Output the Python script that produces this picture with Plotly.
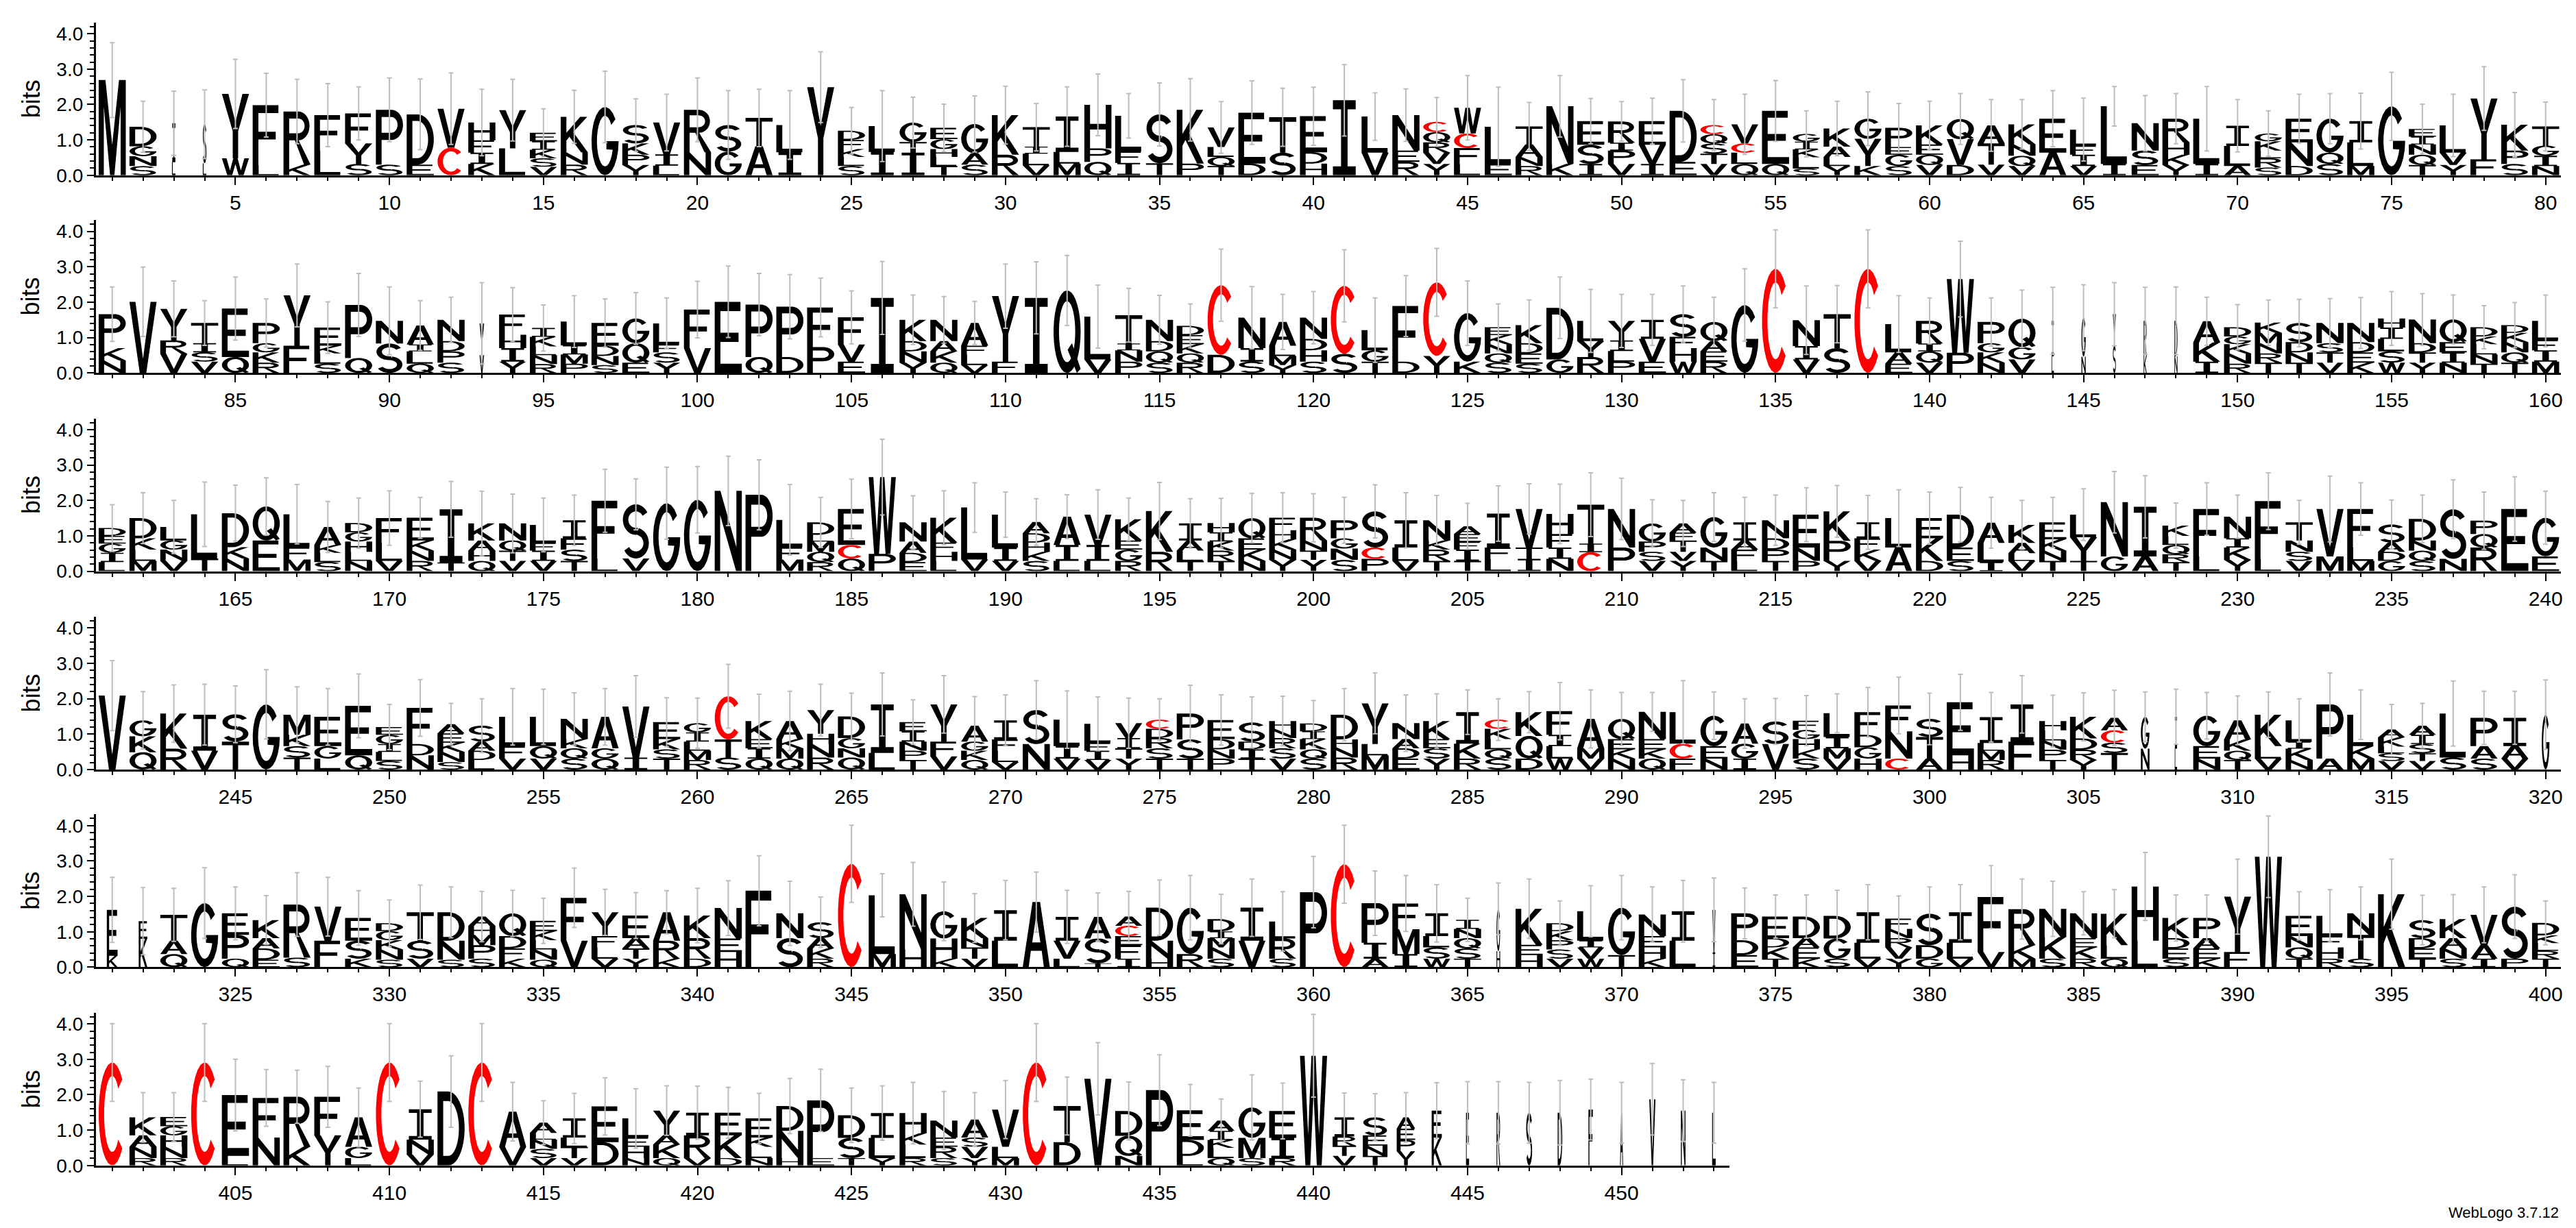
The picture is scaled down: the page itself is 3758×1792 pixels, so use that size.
import numpy as np
import plotly.graph_objects as go

# ---------------- data (letters listed top -> bottom of each stack, heights in bits) -------------
letters_row1 = ["M","DGNS","IL","SL","YW","FL","RK","FL","FYS","PS",
 "DE","VC","HFIK","YL","EIKSV","KNR","G","SKPY","VIL","RN",
 "SG","TA","LI","Y","DFKLS","LI","GTI","EGHLT","GAS","KR",
 "TILV","ILM","HPQ","LFI","ST","KP","VLQT","ED","TS","EDH",
 "I","LV","NER","CQRVY","WCFL","LE","TANR","NK","ESI","RIPV",
 "EVI","DE","CQSTV","VCLQ","EQ","GIKLS","KALY","GYK","PEGS","KEQV",
 "QVD","ATV","KNQV","EA","LFIV","LI","NSE","RHKY","LI","ILA",
 "GKLRS","END","GQS","ILM","G","EINQT","LVY","YF","KPS","TGIN"]
heights_row1 = [[2.69],[0.55,0.28,0.28,0.26],[1.1,0.37],[1.1,0.34],[1.82,0.48],[1.7,0.28],[1.5,0.3],[1.0,0.7],[0.85,0.58,0.32],[1.55,0.3],
 [1.42,0.3],[1.1,0.78],[0.5,0.35,0.32,0.32],[1.08,0.76],[0.24,0.24,0.24,0.24,0.24],[1.0,0.35,0.3],[1.93],[0.52,0.32,0.29,0.29],[0.9,0.32,0.27],[1.2,0.65],
 [0.75,0.67],[0.8,0.82],[0.77,0.65],[2.49],[0.26,0.26,0.22,0.26,0.26],[0.73,0.66],[0.55,0.3,0.64],[0.32,0.28,0.22,0.26,0.26],[0.83,0.32,0.3],[1.12,0.58],
 [0.55,0.2,0.33,0.28],[1.0,0.33,0.33],[1.23,0.38,0.38],[1.0,0.33,0.35],[1.38,0.34],[1.52,0.33],[0.55,0.28,0.26,0.26],[1.44,0.33],[1.0,0.64],[1.02,0.32,0.33],
 [2.12],[1.02,0.64],[1.0,0.32,0.38],[0.29,0.29,0.29,0.32,0.32],[0.73,0.41,0.45,0.32],[1.05,0.32],[0.51,0.35,0.26,0.26],[1.63,0.32],[0.67,0.54,0.32],[0.6,0.22,0.38,0.32],
 [0.67,0.54,0.32],[1.44,0.38],[0.26,0.26,0.29,0.29,0.32],[0.54,0.26,0.32,0.32],[1.5,0.32],[0.22,0.22,0.22,0.32,0.19],[0.51,0.29,0.26,0.26],[0.57,0.77,0.26],[0.54,0.22,0.32,0.26],[0.54,0.29,0.29,0.29],
 [0.57,0.73,0.29],[0.51,0.6,0.3],[0.57,0.32,0.29,0.26],[0.96,0.64],[0.45,0.26,0.32,0.26],[1.63,0.32],[0.77,0.41,0.29],[0.67,0.35,0.29,0.29],[1.28,0.32],[0.57,0.57,0.26],
 [0.22,0.26,0.22,0.26,0.22],[0.67,0.67,0.26],[0.96,0.32,0.32],[0.6,0.67,0.26],[1.95],[0.22,0.22,0.29,0.29,0.29],[0.77,0.35,0.29],[1.72,0.45],[0.73,0.38,0.32],[0.54,0.29,0.29,0.26]]
err_top_row1 = [3.75,2.09,2.38,2.41,3.28,2.88,2.71,2.59,2.50,2.75,
 2.72,2.89,2.43,2.71,1.88,2.40,2.94,2.16,2.29,2.75,
 2.39,2.43,2.39,3.49,1.92,2.39,2.21,2.01,2.24,2.52,
 2.03,2.50,2.86,2.31,2.61,2.73,2.08,2.67,2.46,2.49,
 3.13,2.33,2.44,2.20,2.82,2.49,2.06,2.82,2.17,2.08,
 2.18,2.70,2.14,2.29,2.68,1.82,2.09,2.36,2.03,2.09,
 2.31,2.14,2.14,2.39,2.18,2.51,2.25,2.31,2.51,2.14,
 1.82,2.29,2.31,2.32,2.91,2.01,2.29,3.07,2.34,2.07]

letters_row2 = ["PKN","V","YRV","TISV","EQ","PGKR","YF","EKLS","PQ","NS",
 "AILQ","NDPS","YV","FHIY","IKLNR","LIMP","EDNS","GQE","LFSY","FV",
 "E","PQ","PD","FP","FVE","I","KDNY","NAKQ","AFLV","YF",
 "I","Q","LV","TINP","NDQS","DEKQR","CD","NIS","ALMY","NDHS",
 "CS","LGT","FD","CY","GK","EKNQS","KDES","DG","LYR","YILP",
 "IVE","SFHW","QAER","G","C","NIV","TS","C","LAE","RIQV",
 "WP","PGKN","QGV","IL","GN","YS","RK","DN","AKI","DGKNR",
 "KMNRT","SDNT","NSTV","NDEK","HILSW","NDTY","QEIN","DKLNT","DKNQT","LFIM"]
heights_row2 = [[0.96,0.35,0.35],[2.01],[0.89,0.38,0.54],[0.57,0.26,0.26,0.32],[1.37,0.45],[0.57,0.26,0.29,0.29],[1.42,0.77],[0.51,0.22,0.29,0.26],[1.5,0.42],[0.64,0.83],
 [0.54,0.19,0.35,0.26],[0.6,0.29,0.32,0.29],[0.9,0.5],[0.57,0.38,0.38,0.32],[0.25,0.27,0.25,0.25,0.25],[0.67,0.26,0.26,0.26],[0.64,0.29,0.26,0.22],[0.7,0.55,0.29],[0.6,0.22,0.29,0.29],[1.09,0.7],
 [2.01],[1.48,0.45],[1.42,0.45],[1.12,0.73],[0.77,0.48,0.32],[2.12],[0.6,0.29,0.32,0.29],[0.6,0.29,0.32,0.29],[0.64,0.26,0.29,0.22],[1.85,0.32],
 [2.12],[2.33],[1.21,0.38],[0.8,0.19,0.32,0.32],[0.6,0.29,0.32,0.29],[0.26,0.26,0.26,0.26,0.29],[1.97,0.51],[0.86,0.38,0.32],[0.67,0.29,0.26,0.22],[0.6,0.32,0.32,0.32],
 [1.92,0.54],[0.57,0.32,0.32],[1.57,0.32],[2.08,0.48],[1.37,0.32],[0.22,0.26,0.26,0.26,0.29],[0.51,0.29,0.29,0.26],[1.46,0.38],[0.57,0.45,0.45],[0.55,0.3,0.3,0.32],
 [0.54,0.64,0.32],[0.64,0.32,0.38,0.32],[0.54,0.29,0.29,0.32],[1.92],[2.94],[0.73,0.38,0.38],[0.96,0.7],[2.94],[0.8,0.32,0.26],[0.64,0.22,0.32,0.29],
 [2.08,0.57],[0.6,0.26,0.29,0.29],[0.8,0.35,0.38],[1.0,0.47],[1.1,0.46],[0.9,0.76],[1.0,0.47],[1.0,0.47],[0.6,0.54,0.32],[0.26,0.22,0.26,0.29,0.26],
 [0.29,0.29,0.29,0.26,0.29],[0.54,0.29,0.29,0.29],[0.57,0.26,0.29,0.29],[0.54,0.29,0.29,0.29],[0.26,0.32,0.35,0.32,0.29],[0.67,0.26,0.29,0.29],[0.64,0.29,0.29,0.29],[0.26,0.22,0.29,0.26,0.26],[0.22,0.26,0.29,0.29,0.29],[0.54,0.29,0.32,0.32]]
err_top_row2 = [2.43,2.99,2.60,2.04,2.71,2.09,3.08,2.01,2.81,2.43,
 2.04,2.14,2.55,2.41,1.92,2.18,2.09,2.27,2.12,2.59,
 3.02,2.81,2.78,2.68,2.32,3.15,2.20,2.16,2.02,3.08,
 3.14,3.32,2.48,2.39,2.19,1.95,3.50,2.44,2.22,2.30,
 3.48,2.12,2.75,3.52,2.60,1.95,2.06,2.71,2.36,2.22,
 2.22,2.46,2.14,2.94,4.04,2.46,2.47,4.04,2.18,2.12,
 3.72,2.12,2.34,2.42,2.49,2.55,2.42,2.43,2.14,1.93,
 2.06,2.08,2.10,2.13,2.30,2.24,2.20,1.90,1.99,2.20]

letters_row3 = ["DEGIL","DKLM","LGNV","LT","DKN","QE","LFM","AKLS","DGHLN","FLV",
 "EKNR","IT","KAHQ","NQTV","LFIV","IFST","FL","SV","G","G",
 "N","P","LFM","DLMQR","ECQ","WP","NADE","KFHL","LV","LIV",
 "ADHKS","AIL","VIL","KEGR","KR","IALT","HIKRT","QEKN","FHKNY","RNTY",
 "PGNS","SCP","ILV","NKRT","AEFIT","IFL","VTI","HFIN","TIC","NP",
 "GPSV","AFTVY","GNT","IAFL","NDPT","ENP","KPY","IFKV","LA","EKD",
 "DES","ALI","KALV","EKNT","LYT","NG","IA","KLQRT","FL","NIKY",
 "FL","TNSV","VM","FLM","SADG","DNQS","SN","PQR","E","GE"]
heights_row3 = [[0.22,0.22,0.26,0.26,0.26],[0.57,0.32,0.32,0.29],[0.38,0.26,0.32,0.29],[1.25,0.36],[0.96,0.32,0.36],[0.96,0.87],[0.93,0.35,0.33],[0.51,0.22,0.26,0.26],[0.26,0.26,0.29,0.26,0.29],[0.7,0.51,0.29],
 [0.64,0.29,0.29,0.29],[1.5,0.25],[0.48,0.29,0.29,0.29],[0.48,0.29,0.29,0.29],[0.51,0.22,0.29,0.29],[0.51,0.32,0.32,0.29],[1.63,0.36],[1.53,0.36],[1.92],[2.02],
 [2.27],[2.16],[0.77,0.35,0.33],[0.35,0.19,0.29,0.29,0.26],[1.02,0.38,0.36],[2.17,0.49],[0.54,0.32,0.26,0.26],[0.7,0.26,0.26,0.29],[1.47,0.33],[0.93,0.38,0.29],
 [0.32,0.26,0.26,0.26,0.29],[0.8,0.45,0.29],[0.86,0.45,0.29],[0.6,0.26,0.32,0.29],[1.15,0.55],[0.48,0.29,0.29,0.29],[0.26,0.26,0.26,0.29,0.29],[0.57,0.32,0.32,0.29],[0.35,0.26,0.29,0.29,0.32],[0.64,0.29,0.26,0.32],
 [0.51,0.29,0.32,0.32],[1.02,0.32,0.35],[0.77,0.38,0.29],[0.57,0.26,0.32,0.29],[0.22,0.22,0.22,0.32,0.29],[0.96,0.32,0.35],[1.09,0.32,0.35],[0.57,0.38,0.32,0.35],[1.1,0.24,0.54],[1.09,0.67],
 [0.51,0.29,0.26,0.29],[0.26,0.22,0.32,0.26,0.29],[0.86,0.38,0.29],[0.51,0.26,0.32,0.29],[0.51,0.32,0.32,0.29],[0.93,0.38,0.29],[0.83,0.57,0.29],[0.45,0.32,0.32,0.29],[0.83,0.67],[0.57,0.64,0.29],
 [0.93,0.38,0.29],[0.57,0.54,0.26],[0.51,0.29,0.22,0.29],[0.48,0.32,0.29,0.29],[0.64,0.67,0.29],[1.53,0.42],[1.4,0.42],[0.29,0.26,0.26,0.22,0.26],[1.34,0.42],[0.61,0.26,0.35,0.32],
 [1.63,0.35],[0.51,0.32,0.26,0.29],[1.34,0.42],[1.09,0.38,0.29],[0.51,0.26,0.26,0.29],[0.61,0.29,0.29,0.29],[1.4,0.35],[0.38,0.38,0.67],[1.76],[1.09,0.42]]
err_top_row3 = [1.88,2.22,2.00,2.52,2.43,2.64,2.45,1.97,2.07,2.27,
 2.09,2.54,2.26,2.18,2.07,2.15,2.88,2.61,2.94,2.96,
 3.25,3.15,2.45,2.09,2.60,3.73,2.13,2.27,2.50,2.24,
 2.05,2.16,2.30,2.07,2.51,2.05,2.06,2.20,2.22,2.19,
 2.09,2.44,2.22,2.14,1.92,2.41,2.47,2.46,2.78,2.63,
 2.02,2.00,2.22,2.09,2.15,2.36,2.42,2.14,2.30,2.24,
 2.37,2.09,2.00,2.09,2.33,2.82,2.70,1.93,2.50,2.15,
 2.78,2.00,2.69,2.50,2.01,2.15,2.58,2.24,2.67,2.26]

letters_row4 = ["V","GKQ","KR","IV","ST","G","MKST","EGL","EQ","EGILS",
 "FDN","AEKNS","SADL","LFV","LQV","NKQS","AGQ","VI","EKST","GILMR",
 "CTS","KEIQ","AKMQ","YHNR","DGNQ","IL","EINPT","YFV","AGKQ","IFLV",
 "SN","LIV","LFIV","VITY","CDRST","PST","EDNP","SDIT","HNRSV","DIKQS",
 "DHNR","YLM","NADE","KESY","IKR","CKLQS","KQD","FILW","AMV","QEKN",
 "NEKQ","LCF","GEN","AGI","SV","FGHKS","LIMV","FDGH","FNC","STA",
 "EH","ILMR","IF","HLNPT","KDRY","ACST","GN","IL","GEN","AKQT",
 "KLV","LIKN","PA","LKM","AKLSV","AISTV","LS","PAS","IAV","G"]
heights_row4 = [[2.09],[0.45,0.45,0.49],[0.99,0.59],[1.02,0.53],[0.77,0.79],[1.84],[0.57,0.32,0.32,0.34],[0.83,0.35,0.31],[1.4,0.4],[0.22,0.26,0.22,0.26,0.24],
 [1.02,0.32,0.4],[0.26,0.26,0.26,0.29,0.21],[0.45,0.26,0.26,0.27],[0.83,0.35,0.31],[0.83,0.35,0.31],[0.57,0.26,0.29,0.31],[0.89,0.29,0.31],[1.44,0.34],[0.48,0.29,0.26,0.31],[0.26,0.26,0.26,0.26,0.27],
 [1.22,0.51,0.34],[0.51,0.26,0.29,0.31],[0.51,0.26,0.29,0.31],[0.67,0.29,0.38,0.34],[0.61,0.29,0.26,0.34],[1.37,0.47],[0.26,0.29,0.26,0.26,0.27],[1.05,0.42,0.37],[0.45,0.26,0.26,0.27],[0.54,0.32,0.32,0.21],
 [0.96,0.72],[0.75,0.35,0.31],[0.54,0.22,0.26,0.27],[0.42,0.29,0.29,0.31],[0.26,0.26,0.29,0.29,0.31],[0.73,0.54,0.31],[0.54,0.29,0.26,0.31],[0.54,0.22,0.26,0.31],[0.22,0.26,0.29,0.29,0.31],[0.22,0.22,0.29,0.26,0.31],
 [0.7,0.22,0.29,0.34],[1.15,0.32,0.4],[0.45,0.26,0.29,0.31],[0.51,0.26,0.29,0.31],[0.89,0.42,0.31],[0.26,0.29,0.29,0.26,0.31],[0.67,0.64,0.31],[0.67,0.32,0.35,0.31],[0.83,0.29,0.31],[0.57,0.29,0.26,0.31],
 [0.77,0.29,0.26,0.31],[0.89,0.42,0.31],[0.86,0.35,0.31],[0.57,0.42,0.31],[0.64,0.72],[0.26,0.26,0.29,0.26,0.31],[0.67,0.32,0.29,0.31],[0.64,0.35,0.32,0.31],[0.73,0.77,0.31],[0.51,0.61,0.31],
 [1.5,0.4],[0.73,0.22,0.26,0.27],[1.05,0.79],[0.26,0.29,0.26,0.29,0.27],[0.61,0.32,0.29,0.27],[0.35,0.35,0.29,0.47],[0.9,0.59],[0.9,0.59],[0.86,0.35,0.31],[0.54,0.32,0.26,0.27],
 [0.89,0.35,0.31],[0.61,0.19,0.32,0.27],[1.53,0.31],[0.89,0.35,0.31],[0.22,0.26,0.19,0.22,0.24],[0.26,0.26,0.26,0.22,0.24],[1.24,0.34],[0.8,0.35,0.31],[0.8,0.35,0.31],[1.55]]
err_top_row4 = [3.08,2.20,2.39,2.41,2.36,2.82,2.34,2.29,2.70,1.84,
 2.54,1.87,2.00,2.29,2.27,2.17,2.29,2.65,2.03,2.02,
 2.97,2.13,2.21,2.41,2.16,2.73,1.97,2.65,2.06,2.11,
 2.51,2.22,2.05,2.02,2.00,2.38,2.11,2.05,2.07,1.95,
 2.29,2.73,2.11,2.14,2.25,2.00,2.20,2.46,2.25,2.18,
 2.18,2.51,2.19,2.00,2.01,2.09,2.14,2.32,2.61,2.16,
 2.69,2.18,2.65,2.10,2.17,2.24,2.19,2.27,2.18,2.08,
 2.19,2.00,2.73,2.25,1.84,1.87,2.50,2.21,2.21,2.53]

letters_row5 = ["EK","EK","TAQ","G","EPQ","KADE","RS","VF","ESK","DGKNS",
 "TSV","DNS","AHMPS","QDFK","EKLNQ","FV","YFLV","EATY","ARK","KRD",
 "NEH","F","NS","SAKR","C","LM","NH","GHK","KNTV","IL",
 "A","IVL","AST","ACEFI","DNH","GR","DIMNS","IV","LRS","P",
 "C","PIA","FMI","ILSW","INQST","GH","KEH","DKPSV","LIVW","GT",
 "NEHK","IL","VI","PDE","EDKT","DAEK","DGS","ILV","FNRVY","SDG",
 "ILV","FV","RKM","NKS","NEKR","KLQ","HL","KDES","PAEK","YF",
 "W","ENQT","LFHR","NTS","K","SDET","KANS","VAI","SP","DKLRT"]
heights_row5 = [[1.3,0.32],[0.5,0.8],[0.73,0.38,0.37],[1.81],[0.61,0.67,0.24],[0.51,0.29,0.32,0.21],[1.5,0.27],[0.96,0.75],[0.64,0.51,0.24],[0.22,0.26,0.26,0.29,0.21],
 [0.8,0.51,0.24],[0.8,0.54,0.21],[0.26,0.26,0.29,0.38,0.24],[0.64,0.35,0.29,0.24],[0.29,0.26,0.26,0.29,0.21],[1.21,0.75],[0.67,0.32,0.32,0.24],[0.64,0.29,0.29,0.24],[0.8,0.51,0.24],[0.64,0.58,0.24],
 [0.86,0.38,0.43],[2.16],[0.7,0.82],[0.45,0.29,0.29,0.24],[2.92],[1.66,0.37],[1.56,0.5],[0.77,0.57,0.24],[0.57,0.26,0.32,0.24],[0.86,0.75],
 [1.84],[0.67,0.51,0.24],[0.61,0.7,0.11],[0.26,0.29,0.26,0.38,0.24],[0.93,0.51,0.24],[1.31,0.37],[0.35,0.19,0.26,0.32,0.24],[0.93,0.75],[0.48,0.57,0.24],[2.12],
 [2.91],[1.12,0.45,0.24],[0.73,0.7,0.37],[0.64,0.32,0.32,0.24],[0.26,0.26,0.29,0.29,0.24],[1.2,0.45],[1.02,0.29,0.34],[0.22,0.26,0.26,0.26,0.24],[0.83,0.19,0.32,0.24],[1.34,0.34],
 [0.61,0.32,0.32,0.24],[0.83,0.75],[1.2,0.42],[0.76,0.42,0.34],[0.61,0.26,0.32,0.24],[0.61,0.26,0.32,0.24],[0.64,0.57,0.24],[0.86,0.45,0.24],[0.29,0.26,0.26,0.32,0.24],[0.89,0.38,0.24],
 [0.86,0.45,0.24],[1.55,0.43],[1.02,0.38,0.24],[0.8,0.61,0.24],[0.7,0.26,0.32,0.24],[0.89,0.38,0.24],[1.53,0.75],[0.57,0.29,0.29,0.24],[0.57,0.29,0.29,0.24],[1.56,0.43],
 [3.12],[0.57,0.32,0.32,0.24],[0.57,0.32,0.32,0.24],[0.61,0.67,0.24],[2.06],[0.51,0.29,0.29,0.24],[0.54,0.29,0.29,0.24],[0.86,0.38,0.24],[1.47,0.24],[0.35,0.22,0.22,0.22,0.24]]
err_top_row5 = [2.54,2.25,2.23,2.81,2.27,2.02,2.67,2.54,2.16,1.90,
 2.32,2.27,2.14,2.17,1.95,2.80,2.20,2.11,2.16,2.23,
 2.44,3.15,2.43,1.98,4.01,2.64,2.96,2.41,2.08,2.45,
 2.69,2.17,2.10,2.14,2.46,2.59,2.06,2.49,2.13,3.13,
 4.01,2.72,2.59,2.33,1.95,2.38,2.49,1.87,2.30,2.59,
 2.27,2.45,2.52,2.24,2.04,2.04,2.17,2.33,2.01,2.27,
 2.33,2.87,2.49,2.43,2.13,2.19,3.24,2.04,2.04,3.05,
 4.27,2.13,2.19,2.27,3.05,2.03,2.05,2.27,2.61,1.87]

letters_row6 = ["C","KANR","EGHNR","C","EL","FN","RK","FY","AGL","C",
 "INV","D","C","AV","ALNSV","ILTV","ED","LEHN","YAKQ","IRV",
 "EKD","EKLN","DNH","PE","DST","ILY","HKLR","NERS","ASVY","VLM",
 "C","TD","V","DQN","P","EDL","AIKLQ","GMS","EIR","W",
 "IRTV","SENT","AEPY","EK","E","R","S","D","F","A",
 "V","N","L"]
heights_row6 = [[2.91],[0.51,0.32,0.32,0.21],[0.26,0.26,0.32,0.32,0.21],[2.91],[1.72,0.27],[1.12,0.79],[1.41,0.53],[1.09,0.85],[0.83,0.32,0.21],[2.91],
 [0.86,0.42,0.31],[2.09],[2.91],[0.99,0.53],[0.29,0.19,0.26,0.26,0.21],[0.54,0.26,0.32,0.21],[1.01,0.66],[0.54,0.26,0.32,0.21],[0.7,0.26,0.38,0.21],[0.64,0.64,0.21],
 [0.64,0.64,0.21],[0.54,0.26,0.32,0.21],[0.7,0.77,0.21],[1.63,0.21],[0.64,0.57,0.21],[0.7,0.57,0.21],[0.57,0.32,0.38,0.21],[0.48,0.26,0.32,0.21],[0.51,0.26,0.32,0.21],[1.05,0.32,0.21],
 [2.91],[1.02,0.66],[2.45],[0.7,0.57,0.27],[2.13],[0.84,0.45,0.27],[0.29,0.26,0.22,0.29,0.21],[0.86,0.57,0.21],[0.76,0.57,0.21],[3.1],
 [0.54,0.26,0.29,0.27],[0.51,0.29,0.29,0.27],[0.32,0.32,0.32,0.4],[0.76,0.79],[1.49],[1.49],[1.49],[1.49],[1.58],[1.49],
 [1.87],[1.55],[1.49]]
err_top_row6 = [4.01,2.06,2.06,4.01,3.00,2.71,2.69,2.80,2.19,4.01,
 2.38,3.10,4.01,2.35,1.83,2.04,2.48,2.17,2.25,2.24,
 2.21,2.04,2.46,2.72,2.19,2.25,2.35,2.09,2.06,2.40,
 4.01,2.50,3.47,2.36,3.13,2.29,1.88,2.56,2.33,4.27,
 2.05,2.03,2.06,2.34,2.37,2.37,2.35,2.40,2.44,2.35,
 2.88,2.42,2.35]

# columns drawn narrower (fraction of column width), all others use the default
narrow_positions = [3,4,93,144,145,146,147,148,307,308,320,321,322,366,373,
                    441,442,443,444,445,446,447,448,449,450,451,452,453]
narrow_widths = [0.12,0.12,0.15,0.08,0.14,0.10,0.10,0.10,0.28,0.08,0.25,0.35,0.28,0.12,0.10,
                 0.76,0.80,0.60,0.33,0.10,0.12,0.20,0.15,0.15,0.10,0.20,0.15,0.12]
DEFAULT_WIDTH = 0.88

rows = [(letters_row1, heights_row1, err_top_row1),
        (letters_row2, heights_row2, err_top_row2),
        (letters_row3, heights_row3, err_top_row3),
        (letters_row4, heights_row4, err_top_row4),
        (letters_row5, heights_row5, err_top_row5),
        (letters_row6, heights_row6, err_top_row6)]
PER_ROW = 80

# ---------------- glyph outlines (unit box) ----------------
def arc(cx, cy, rx, ry, a0, a1, n=22):
    t = np.radians(np.linspace(a0, a1, n))
    return [(cx + rx * np.cos(a), cy + ry * np.sin(a)) for a in t]

def ring(cx, cy, rxo, ryo, rxi, ryi, a0, a1, n=22):
    return arc(cx, cy, rxo, ryo, a0, a1, n) + arc(cx, cy, rxi, ryi, a1, a0, n)

GL = {
 'A': [([(0,0),(0.36,1),(0.64,1),(1,0),(0.78,0),(0.70,0.25),(0.30,0.25),(0.22,0)],0),
       ([(0.35,0.38),(0.65,0.38),(0.5,0.8)],1)],
 'C': [(ring(0.5,0.5,0.5,0.5,0.3,0.37,42,318),0)],
 'D': [([(0,0),(0,1),(0.4,1)] + arc(0.4,0.5,0.6,0.5,90,-90),0),
       ([(0.21,0.13),(0.21,0.87),(0.4,0.87)] + arc(0.4,0.5,0.39,0.37,90,-90),1)],
 'E': [([(0,0),(0,1),(0.95,1),(0.95,0.87),(0.21,0.87),(0.21,0.565),(0.88,0.565),(0.88,0.435),
        (0.21,0.435),(0.21,0.13),(1,0.13),(1,0)],0)],
 'F': [([(0,0),(0,1),(0.95,1),(0.95,0.87),(0.21,0.87),(0.21,0.56),(0.85,0.56),(0.85,0.43),
        (0.21,0.43),(0.21,0)],0)],
 'G': [(arc(0.5,0.5,0.5,0.5,40,360) + [(0.55,0.5),(0.55,0.38)] + arc(0.5,0.5,0.3,0.37,340,40),0)],
 'H': [([(0,0),(0,1),(0.21,1),(0.21,0.565),(0.79,0.565),(0.79,1),(1,1),(1,0),(0.79,0),
        (0.79,0.435),(0.21,0.435),(0.21,0)],0)],
 'I': [([(0.08,0),(0.92,0),(0.92,0.12),(0.62,0.12),(0.62,0.88),(0.92,0.88),(0.92,1),(0.08,1),
        (0.08,0.88),(0.38,0.88),(0.38,0.12),(0.08,0.12)],0)],
 'K': [([(0,0),(0,1),(0.21,1),(0.21,0.55),(0.72,1),(0.98,1),(0.46,0.57),(1,0),(0.75,0),
        (0.32,0.44),(0.21,0.33),(0.21,0)],0)],
 'L': [([(0,0),(0,1),(0.22,1),(0.22,0.13),(0.96,0.13),(0.96,0)],0)],
 'M': [([(0,0),(0,1),(0.25,1),(0.5,0.32),(0.75,1),(1,1),(1,0),(0.81,0),(0.81,0.72),(0.58,0),
        (0.42,0),(0.19,0.72),(0.19,0)],0)],
 'N': [([(0,0),(0,1),(0.21,1),(0.8,0.3),(0.8,1),(1,1),(1,0),(0.79,0),(0.2,0.7),(0.2,0)],0)],
 'P': [([(0,0),(0,1),(0.58,1)] + arc(0.58,0.725,0.42,0.275,90,-90) + [(0.21,0.45),(0.21,0)],0),
       ([(0.21,0.58),(0.21,0.87),(0.56,0.87)] + arc(0.56,0.725,0.24,0.145,90,-90),1)],
 'Q': [(arc(0.5,0.5,0.5,0.5,0,360,36),0),
       (arc(0.5,0.5,0.3,0.37,0,360,36),1),
       ([(0.52,0.28),(0.68,0.36),(1.0,0.05),(0.86,0.0)],0)],
 'R': [([(0,0),(0,1),(0.56,1)] + arc(0.56,0.73,0.4,0.27,90,-90) +
        [(1.0,0.0),(0.76,0.0),(0.42,0.46),(0.21,0.46),(0.21,0)],0),
       ([(0.21,0.59),(0.21,0.87),(0.54,0.87)] + arc(0.54,0.73,0.24,0.14,90,-90),1)],
 'S': [(ring(0.5,0.7175,0.48,0.2825,0.28,0.1525,28,282),0),
       (ring(0.5,0.2825,0.48,0.2825,0.28,0.1525,78,-152),0)],
 'T': [([(0,1),(1,1),(1,0.87),(0.6,0.87),(0.6,0),(0.4,0),(0.4,0.87),(0,0.87)],0)],
 'V': [([(0,1),(0.22,1),(0.5,0.2),(0.78,1),(1,1),(0.62,0),(0.38,0)],0)],
 'W': [([(0,1),(0.17,1),(0.3,0.28),(0.42,1),(0.58,1),(0.7,0.28),(0.83,1),(1,1),(0.8,0),
        (0.62,0),(0.5,0.66),(0.38,0),(0.2,0)],0)],
 'Y': [([(0,1),(0.24,1),(0.5,0.56),(0.76,1),(1,1),(0.6,0.42),(0.6,0),(0.4,0),(0.4,0.42)],0)],
}

def signed_area(p):
    s = 0.0
    for i in range(len(p)):
        x1, y1 = p[i]; x2, y2 = p[(i + 1) % len(p)]
        s += x1 * y2 - x2 * y1
    return s / 2

GLYPHS = {}
for ch, polys in GL.items():
    out = []
    for pts, hole in polys:
        a = signed_area(pts)
        if (hole and a > 0) or (not hole and a < 0):
            pts = pts[::-1]
        out.append(pts)
    GLYPHS[ch] = out

def glyph_path(ch, x0, x1, y0, y1):
    segs = []
    for pts in GLYPHS[ch]:
        coords = [f"{x0 + u * (x1 - x0):.3f},{y0 + v * (y1 - y0):.4f}" for u, v in pts]
        segs.append("M " + " L ".join(coords) + " Z")
    return " ".join(segs)

width_of = dict(zip(narrow_positions, narrow_widths))

# ---------------- geometry of the page ----------------
W, H = 3758, 1792
AX_LEFT_PX = 132
POS1_PX = 156
STEP_PX = 44.97
ROW_BASE_PX = [250, 541, 833, 1125, 1416, 1708]
BIT_PX = 52.1
YMAX = 4.32

fig = go.Figure()
shapes = []
annotations = []
layout_axes = {}

for r, (letters, heights, err_top) in enumerate(rows):
    k = r + 1
    xs = '' if k == 1 else str(k)
    start = r * PER_ROW + 1
    n = len(letters)
    positions = [start + i for i in range(n)]

    # letter stacks
    paths = {'#000000': [], '#ff0000': []}
    totals = []
    for p, lets, hs in zip(positions, letters, heights):
        w = width_of.get(p, DEFAULT_WIDTH)
        y = 0.0
        for ch, h in zip(reversed(lets), reversed(hs)):
            col = '#ff0000' if ch == 'C' else '#000000'
            paths[col].append(glyph_path(ch, p - w / 2, p + w / 2, y, y + h))
            y += h
        totals.append(y)
    for col, segs in paths.items():
        if segs:
            shapes.append(dict(type='path', path=" ".join(segs), xref='x' + xs, yref='y' + xs,
                               fillcolor=col, line=dict(width=0), layer='below',
                               fillrule='nonzero'))

    # error bars
    errs = [max(0.0, e - t) for e, t in zip(err_top, totals)]
    fig.add_trace(go.Scatter(x=positions, y=totals, mode='markers',
                             marker=dict(size=2, color='rgba(0,0,0,0)'),
                             error_y=dict(type='data', array=errs, symmetric=True,
                                          color='#bdbdbd', thickness=2, width=3.5),
                             xaxis='x' + xs, yaxis='y' + xs, showlegend=False, hoverinfo='skip'))

    # axes
    x_lo = start - 0.53
    x_hi = start + n - 0.5
    right_px = POS1_PX + (x_hi - 1 - r * PER_ROW) * STEP_PX
    base = ROW_BASE_PX[r]
    top = base - YMAX * BIT_PX
    major = [v for v in range(5 * ((start + 4) // 5), start + n) if v % 5 == 0]
    layout_axes['xaxis' + xs] = dict(
        domain=[AX_LEFT_PX / W, right_px / W], range=[x_lo, x_hi], anchor='y' + xs,
        showline=True, linecolor='black', linewidth=3, showgrid=False, zeroline=False,
        ticks='outside', tickvals=major, ticktext=[str(v) for v in major],
        ticklen=11, tickwidth=2, tickcolor='black',
        minor=dict(ticks='outside', tick0=1, dtick=1, ticklen=5, tickwidth=2, tickcolor='black'),
        tickfont=dict(size=30, color='black'), fixedrange=True)
    layout_axes['yaxis' + xs] = dict(
        domain=[1 - base / H, 1 - top / H], range=[0, YMAX], anchor='x' + xs,
        showline=True, linecolor='black', linewidth=3, showgrid=False, zeroline=False,
        ticks='outside', tickvals=[0, 1, 2, 3, 4], ticktext=['0.0', '1.0', '2.0', '3.0', '4.0'],
        ticklen=10, tickwidth=2, tickcolor='black',
        minor=dict(ticks='outside', tick0=0, dtick=0.2, ticklen=6, tickwidth=2, tickcolor='black'),
        tickfont=dict(size=28, color='black'), fixedrange=True)
    annotations.append(dict(text='bits', x=37 / W, y=1 - (base - YMAX * BIT_PX / 2) / H,
                            xref='paper', yref='paper', showarrow=False, textangle=-90,
                            xanchor='center', yanchor='middle',
                            font=dict(size=36, color='black')))

annotations.append(dict(text='WebLogo 3.7.12', x=3730 / W, y=1 - 1777 / H, xref='paper', yref='paper',
                        showarrow=False, xanchor='right', yanchor='middle',
                        font=dict(size=22, color='black')))

fig.update_layout(
    width=W, height=H, autosize=False,
    margin=dict(l=0, r=0, t=0, b=0),
    paper_bgcolor='white', plot_bgcolor='white',
    font=dict(family='Liberation Sans, Arial, Helvetica, sans-serif', color='black'),
    shapes=shapes, annotations=annotations, showlegend=False,
    **layout_axes)

fig.write_html("out.html")
